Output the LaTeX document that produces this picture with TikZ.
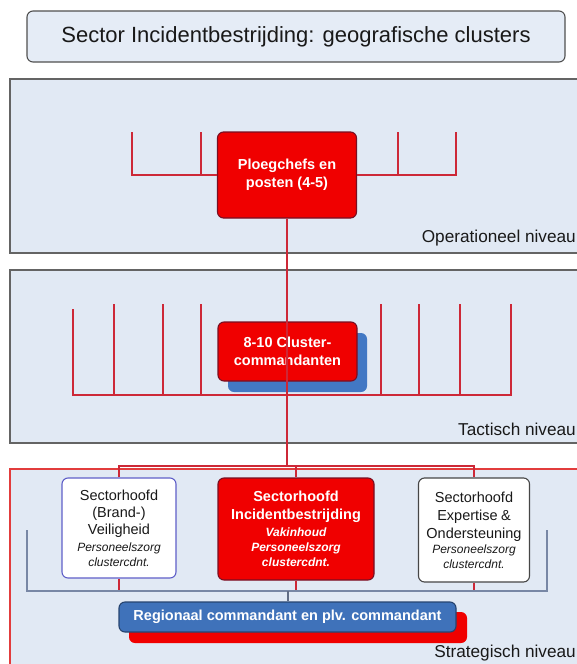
\documentclass[tikz,border=0pt]{standalone}
\usepackage{fontspec}
\setmainfont{Liberation Sans}
\definecolor{panelfill}{RGB}{225,233,244}
\definecolor{titlefill}{RGB}{229,236,246}
\definecolor{panelborder}{RGB}{100,100,100}
\definecolor{boxred}{RGB}{240,0,0}
\definecolor{darkred}{RGB}{120,15,35}
\definecolor{treered}{RGB}{205,40,55}
\definecolor{stratred}{RGB}{226,60,60}
\definecolor{boxblue}{RGB}{63,114,186}
\definecolor{shadowblue}{RGB}{66,120,196}
\definecolor{bracketgray}{RGB}{120,135,165}
\definecolor{purpleborder}{RGB}{95,95,200}
\definecolor{textdark}{RGB}{25,25,25}
\begin{document}
\begin{tikzpicture}[x=1pt,y=-1pt,
  panel/.style={draw=panelborder,fill=panelfill,line width=1.1pt},
  redbox/.style={draw=darkred,fill=boxred,rounded corners=6pt,line width=1.1pt,text=white,
    align=center,inner sep=0pt,font=\bfseries\fontsize{14.5}{18}\selectfont},
  whitebox/.style={fill=white,rounded corners=6pt,line width=1.1pt,text=textdark,
    align=center,inner sep=0pt},
  bluebox/.style={fill=boxblue,rounded corners=6pt,line width=1.1pt,text=white,
    align=center,inner sep=0pt,font=\bfseries\fontsize{14.5}{18}\selectfont},
  tree/.style={draw=treered,line width=1.4pt},
  bracket/.style={draw=bracketgray,line width=1.3pt},
  levellabel/.style={anchor=east,inner sep=0pt,text=textdark,font=\fontsize{17.2}{20}\selectfont}]
\clip (0,0) rectangle (577,664);
\fill[white] (0,0) rectangle (577,664);

% title
\node[draw=panelborder!80!black,fill=titlefill,rounded corners=6pt,line width=1.1pt,
  minimum width=538pt,minimum height=51pt,inner sep=0pt,text=textdark,
  font=\fontsize{22}{26}\selectfont] (title) at (296,36.5)
  {Sector Incidentbestrijding: geografische clusters};

% panels
\draw[panel] (10,79) rectangle (600,253);
\draw[panel] (10,270) rectangle (600,443);
\draw[draw=stratred,fill=panelfill,line width=1.2pt] (10,469) rectangle (600,700);

\node[levellabel] (oplab) at (576,238) {Operationeel niveau};
\node[levellabel] (taclab) at (576,429) {Tactisch niveau};
\node[levellabel] (strlab) at (576,653) {Strategisch niveau};

% operational level
\node[redbox,minimum width=139pt,minimum height=86pt] (ploeg) at (287,175)
  {Ploegchefs en\\posten (4-5)};
\coordinate (opL) at (132,175);
\coordinate (opR) at (456,175);
\draw[tree] (ploeg.west) -- (opL) -- (132,132);
\draw[tree] (201,175) -- (201,132);
\draw[tree] (ploeg.east) -- (opR) -- (456,132);
\draw[tree] (398,175) -- (398,132);

% tactical level
\fill[shadowblue,rounded corners=6pt] (228,333) rectangle (367,392);
\node[redbox,minimum width=139pt,minimum height=59pt] (clus) at (287.5,351.5)
  {8-10 Cluster-\\commandanten};
\draw[tree] (73,309) -- (73,395) -- (511,395) -- (511,304);
\foreach \x in {114,163,201,381,419,460} \draw[tree] (\x,395) -- (\x,304);

% strategic level boxes
\node[whitebox,draw=purpleborder,minimum width=114pt,minimum height=100pt,text width=112pt] (box1) at (119,528)
  {{\fontsize{14.5}{17}\selectfont Sectorhoofd\\(Brand-)\\Veiligheid\par}\vspace{2pt}%
   {\fontsize{12}{15}\selectfont\itshape Personeelszorg\\clustercdnt.\par}};
\node[redbox,minimum width=156pt,minimum height=102pt,text width=150pt] (box2) at (296,529)
  {{\bfseries\fontsize{14.5}{18}\selectfont Sectorhoofd\\Incidentbestrijding\par}\vspace{2pt}%
   {\bfseries\itshape\fontsize{12}{15}\selectfont Vakinhoud\\Personeelszorg\\clustercdnt.\par}};
\node[whitebox,draw=panelborder!70!black,minimum width=111pt,minimum height=104pt,text width=110pt] (box3) at (474,530)
  {{\fontsize{14.5}{18}\selectfont Sectorhoofd\\Expertise \&\\Ondersteuning\par}\vspace{0pt}%
   {\fontsize{12}{15}\selectfont\itshape Personeelszorg\\clustercdnt.\par}};

% connector from operational down to strategic bracket
\coordinate (brk) at (287,466);
\draw[tree] (ploeg.south) -- (brk);
\draw[tree] (box1.north) -- (box1.north |- brk) -- (box3.north |- brk) -- (box3.north);
\draw[tree] (box2.north) -- (box2.north |- brk);

% bottom bracket
\coordinate (bb) at (288,591);
\draw[tree] (box1.south) -- (box1.south |- bb);
\draw[tree] (box2.south) -- (box2.south |- bb);
\draw[tree] (box3.south) -- (box3.south |- bb);
\draw[bracket] (27,530) -- (27,591) -- (547,591) -- (547,530);

% regional commander
\fill[boxred,rounded corners=6pt] (129,612) rectangle (467,643);
\node[bluebox,draw=boxblue!60!black,minimum width=337pt,minimum height=30pt] (regio) at (287.5,617)
  {Regionaal commandant en plv. commandant};
\draw[bracket,line width=1.1pt,draw=bracketgray!80!black] (bb) -- (bb |- regio.north);
\end{tikzpicture}
\end{document}
